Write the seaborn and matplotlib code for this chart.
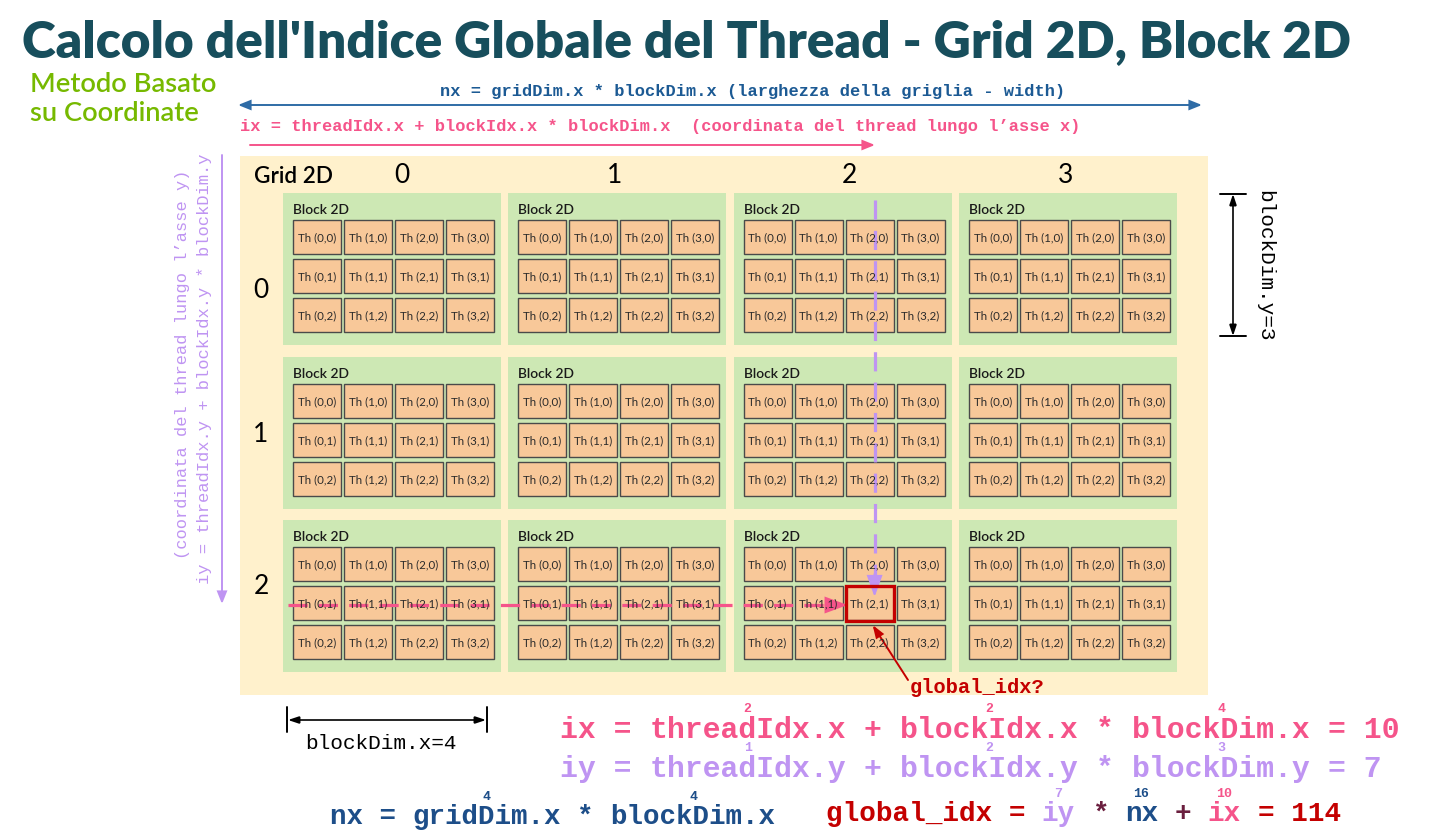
import matplotlib
matplotlib.use("Agg")
import matplotlib.pyplot as plt
from matplotlib.patches import Rectangle, FancyArrowPatch
import seaborn as sns

# ---------------- data ----------------
grid_dim_x = 4
grid_dim_y = 3
block_dim_x = 4
block_dim_y = 3
col_labels = ["0", "1", "2", "3"]
row_labels = ["0", "1", "2"]
target_block = (2, 2)    # (blockIdx.x, blockIdx.y)
target_thread = (2, 1)   # (threadIdx.x, threadIdx.y)
ix_parts = [2, 2, 4]
ix_value = 10
iy_parts = [1, 2, 3]
iy_value = 7
nx_parts = [4, 4]
global_parts = [7, 16, 10]
global_value = 114

title = "Calcolo dell'Indice Globale del Thread - Grid 2D, Block 2D"
subtitle = ["Metodo Basato", "su Coordinate"]
top_nx_text = "nx = gridDim.x * blockDim.x (larghezza della griglia - width)"
top_ix_text = "ix = threadIdx.x + blockIdx.x * blockDim.x  (coordinata del thread lungo l\u2019asse x)"
left_iy_text = "iy = threadIdx.y + blockIdx.y * blockDim.y"
left_iy_note = "(coordinata del thread lungo l\u2019asse y)"

# ---------------- style ----------------
sns.set_theme(style="white")
plt.rcParams["font.family"] = ["Lato", "DejaVu Sans"]

TITLE_C = "#174e5c"
GREEN = "#76b900"
BLUE = "#1c5a94"
BLUE_AR = "#2f6ca6"
PINK = "#f5548a"
LPURPLE = "#bf94f2"
NAVY = "#1d4e89"
RED = "#c40000"
MAROON = "#6b1f3f"
BEIGE = "#fff1cc"
BLOCK_G = "#cde8b4"
CELL = "#f8c899"
CELL_EDGE = "#4a4a4a"
MONO = "Liberation Mono"

W, H = 1446, 839
fig = plt.figure(figsize=(W / 100, H / 100), dpi=100)
ax = fig.add_axes([0, 0, 1, 1])
ax.set_xlim(0, W)
ax.set_ylim(H, 0)
ax.axis("off")
renderer = fig.canvas.get_renderer()


def fit_size(s, width, base=10, **kw):
    t = ax.text(0, 0, s, fontsize=base, **kw)
    bb = t.get_window_extent(renderer=renderer)
    rot = kw.get("rotation", 0)
    w = bb.height if rot in (90, 270) else bb.width
    t.remove()
    return base * width / w


def mono_size(charw):
    return charw / 0.6 * 72 / 100


def arrow(p0, p1, color, lw, hl, hw, style="-|>"):
    st = f"{style},head_length={hl * 0.72},head_width={hw / 2 * 0.72}"
    a = FancyArrowPatch(p0, p1, arrowstyle=st, mutation_scale=1, color=color,
                        lw=lw, shrinkA=0, shrinkB=0, joinstyle="miter")
    ax.add_patch(a)


# ---------------- title ----------------
fs = fit_size(title, 1335, family=["Lato", "DejaVu Sans"], weight="heavy")
ax.text(22, 57, title, fontsize=fs, weight="heavy", color=TITLE_C, va="baseline", ha="left")
fs = fit_size(subtitle[0], 187, weight="semibold")
ax.text(30, 92, subtitle[0], fontsize=fs, weight="semibold", color=GREEN, va="baseline")
ax.text(30, 121, subtitle[1], fontsize=fs, weight="semibold", color=GREEN, va="baseline")

# ---------------- top annotations ----------------
ax.text(440, 96, top_nx_text, family=MONO, weight="bold", fontsize=mono_size(10.2),
        color=BLUE, va="baseline")
arrow((238, 105), (1202, 105), BLUE_AR, 1.4, 10, 8, style="<|-|>")
ax.text(240, 131, top_ix_text, family=MONO, weight="bold", fontsize=mono_size(10.2),
        color=PINK, va="baseline")
arrow((250, 145), (875, 145), PINK, 1.4, 10, 8)

# ---------------- left annotations ----------------
ax.text(182, 364, left_iy_note, family=MONO, fontsize=mono_size(10.2), color=LPURPLE,
        rotation=90, ha="center", va="center")
ax.text(205, 369, left_iy_text, family=MONO, fontsize=mono_size(10.3), color=LPURPLE,
        rotation=90, ha="center", va="center")
arrow((222, 155), (222, 604), LPURPLE, 1.4, 10, 8)

# ---------------- grid ----------------
ax.add_patch(Rectangle((240, 156), 968, 539, facecolor=BEIGE, edgecolor="none"))
fs_grid = fit_size("Grid 2D", 79, weight="semibold")
ax.text(254, 183, "Grid 2D", fontsize=fs_grid, weight="semibold", color="black", va="baseline")

block_x0, block_step_x, block_w = 283, 225.3, 218
block_y0, block_step_y, block_h = 193, 163.5, 152
cell_dx, cell_w, cell_step_x = 10, 48, 51
cell_dy, cell_h, cell_step_y = 27, 34, 39
col_label_x = [402, 615, 849, 1066]
row_label_y = [298, 442, 594]

for i, lab in enumerate(col_labels):
    ax.text(col_label_x[i], 183, lab, fontsize=19, color="black", ha="center", va="baseline")
for j, lab in enumerate(row_labels):
    ax.text(261, row_label_y[j], lab, fontsize=19, color="black", ha="center", va="baseline")

fs_block = fit_size("Block 2D", 56, weight="semibold")
fs_th = fit_size("Th (0,0)", 38)

for bx in range(grid_dim_x):
    for by in range(grid_dim_y):
        x0 = block_x0 + bx * block_step_x
        y0 = block_y0 + by * block_step_y
        ax.add_patch(Rectangle((x0, y0), block_w, block_h, facecolor=BLOCK_G, edgecolor="none"))
        ax.text(x0 + 10, y0 + 21, "Block 2D", fontsize=fs_block, weight="semibold",
                color="#1a1a1a", va="baseline")
        for tx in range(block_dim_x):
            for ty in range(block_dim_y):
                cx = x0 + cell_dx + tx * cell_step_x
                cy = y0 + cell_dy + ty * cell_step_y
                ax.add_patch(Rectangle((cx, cy), cell_w, cell_h, facecolor=CELL,
                                       edgecolor=CELL_EDGE, lw=1.0))
                ax.text(cx + cell_w / 2, cy + cell_h / 2 + 1, f"Th ({tx},{ty})", fontsize=fs_th,
                        color="#2a2a2a", ha="center", va="center")

# target thread
bx, by = target_block
tx, ty = target_thread
tcx = block_x0 + bx * block_step_x + cell_dx + tx * cell_step_x
tcy = block_y0 + by * block_step_y + cell_dy + ty * cell_step_y
ymid = tcy + cell_h / 2 + 2
xmid = tcx + cell_w / 2 + 5

# pink dashed horizontal path
ax.plot([288, tcx - 16], [ymid, ymid], color=PINK, lw=2.3, ls=(0, (6, 3.5)), solid_capstyle="butt")
arrow((tcx - 20, ymid), (tcx + 2, ymid), PINK, 1.5, 19, 14)
# purple dashed vertical path
ax.plot([xmid, xmid], [block_y0 + 7, tcy - 6], color=LPURPLE, lw=2.3, ls=(0, (6, 3.5)),
        solid_capstyle="butt")
arrow((xmid, tcy - 12), (xmid, tcy + 11), LPURPLE, 1.5, 18, 13)

ax.add_patch(Rectangle((tcx, tcy), cell_w, cell_h + 1, facecolor="none", edgecolor=RED, lw=2.4))

# global_idx? label
arrow((908, 680), (tcx + 27, tcy + cell_h + 5), RED, 1.4, 10, 7)
ax.text(910, 693, "global_idx?", family=MONO, weight="bold", fontsize=mono_size(12.2),
        color=RED, va="baseline")

# blockDim.y dimension
arrow((1233, 194), (1233, 336), "black", 1.2, 9, 6, style="<|-|>")
ax.plot([1220, 1246], [194, 194], color="black", lw=1.4)
ax.plot([1220, 1246], [336, 336], color="black", lw=1.4)
ax.text(1265, 266, f"blockDim.y={block_dim_y}", family=MONO, fontsize=mono_size(12.7),
        color="black", rotation=270, ha="center", va="center")

# blockDim.x dimension
arrow((288, 720), (486, 720), "black", 1.2, 9, 6, style="<|-|>")
ax.plot([287, 287], [707, 732], color="black", lw=1.4)
ax.plot([487, 487], [707, 732], color="black", lw=1.4)
ax.text(305, 749, f"blockDim.x={block_dim_x}", family=MONO, fontsize=mono_size(12.7),
        color="black", va="baseline")


# ---------------- bottom formulas ----------------
def formula(x0, y, charw, tokens, sup_dy=26, sup_size=9.5):
    fsz = mono_size(charw)
    pos = 0
    for tok in tokens:
        s, c = tok[0], tok[1]
        lead = len(s) - len(s.lstrip(" "))
        body = s.strip(" ")
        if body:
            ax.text(x0 + (pos + lead) * charw, y, body, family=MONO, weight="bold",
                    fontsize=fsz, color=c, va="baseline", ha="left")
        if len(tok) > 2:
            ax.text(x0 + (pos + lead + len(body) / 2) * charw, y - sup_dy, str(tok[2]),
                    family=MONO, weight="bold", fontsize=sup_size, color=tok[3] if len(tok) > 3 else c,
                    va="baseline", ha="center")
        pos += len(s)


formula(560, 738, 17.87, [
    ("ix = ", PINK), ("threadIdx.x", PINK, ix_parts[0]), (" + ", PINK),
    ("blockIdx.x", PINK, ix_parts[1]), (" * ", PINK), ("blockDim.x", PINK, ix_parts[2]),
    (f" = {ix_value}", PINK)])
formula(560, 777, 17.87, [
    ("iy = ", LPURPLE), ("threadIdx.y", LPURPLE, iy_parts[0]), (" + ", LPURPLE),
    ("blockIdx.y", LPURPLE, iy_parts[1]), (" * ", LPURPLE), ("blockDim.y", LPURPLE, iy_parts[2]),
    (f" = {iy_value}", LPURPLE)])
formula(330, 824, 16.5, [
    ("nx = ", NAVY), ("gridDim.x", NAVY, nx_parts[0]), (" * ", NAVY),
    ("blockDim.x", NAVY, nx_parts[1])], sup_dy=24)
formula(826, 821, 16.6, [
    ("global_idx = ", RED), ("iy", LPURPLE, global_parts[0]), (" * ", MAROON),
    ("nx", NAVY, global_parts[1]), (" + ", MAROON), ("ix", PINK, global_parts[2]),
    (f" = {global_value}", RED)], sup_dy=24)

fig.savefig("out.png", dpi=100, facecolor="white")
